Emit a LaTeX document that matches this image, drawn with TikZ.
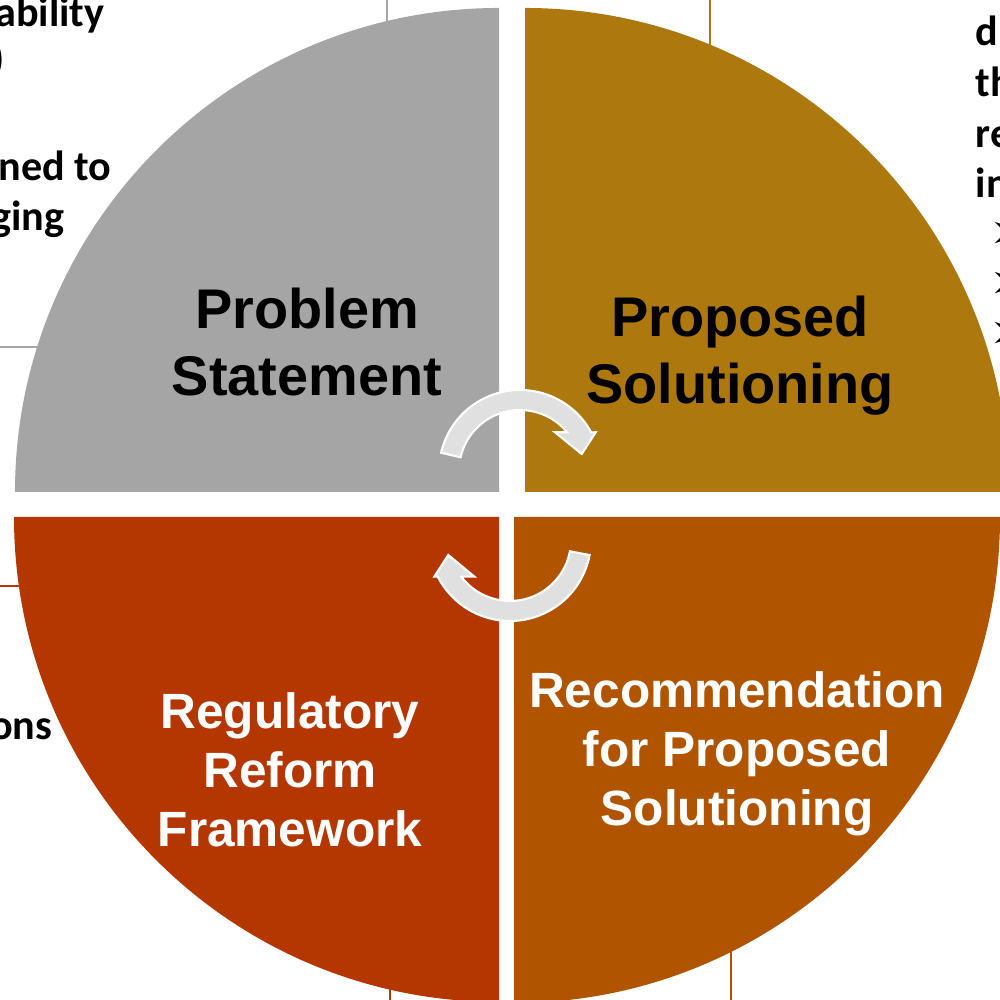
\documentclass[tikz,border=0pt]{standalone}
\usepackage{fontspec}
\newfontfamily\lblfont{Liberation Sans}
\newfontfamily\notefont{Carlito}
\newfontfamily\symfont{DejaVu Sans}
\usepackage{tikz}
\usetikzlibrary{positioning}
\definecolor{quadgray}{RGB}{165,165,165}
\definecolor{quadgold}{RGB}{173,120,14}
\definecolor{quadred}{RGB}{180,54,0}
\definecolor{quadorange}{RGB}{176,84,0}
\definecolor{turngray}{RGB}{224,224,224}
\tikzset{
  turn/.style={fill=turngray,draw=white,line width=0.6pt},
  guide/.style={line width=0.45pt},
  toplabel/.style={font=\lblfont\bfseries\fontsize{15.9}{19.1}\selectfont,align=center,inner sep=0pt},
  botlabel/.style={font=\lblfont\bfseries\fontsize{14.1}{16.8}\selectfont,align=center,inner sep=0pt,text=white},
  note/.style={font=\notefont\bfseries\fontsize{12}{14}\selectfont,inner sep=0pt},
  bullet/.style={font=\symfont\fontsize{14}{16}\selectfont,inner sep=0pt,anchor=west}
}

\begin{document}
\begin{tikzpicture}
    \useasboundingbox (0,0) rectangle (10,10);
    \clip (0,0) rectangle (10,10);

    \draw[guide,quadgray] (3.87,10) -- (3.87,9.5);
    \draw[guide,quadgray] (0,6.53) -- (0.6,6.53);
    \draw[guide,quadgold] (7.10,10) -- (7.10,9.4);
    \draw[guide,quadred] (0,4.14) -- (0.5,4.14);
    \draw[guide,quadorange] (7.31,0) -- (7.31,0.6);
    \draw[guide,quadred] (3.90,0) -- (3.90,0.3);

    \node[note,anchor=base east] (l1) at (1.05,9.73) {ability};
    \node[note,anchor=base east] (l2) at (0.05,9.27) {)};
    \node[note,anchor=base east] (l3) at (1.12,8.19) {ned to};
    \node[note,anchor=base east] (l4) at (0.65,7.69) {ging};
    \node[note,anchor=base east] (l5) at (0.53,2.60) {ons};

    \node[note,anchor=base west] (r1) at (9.75,9.54) {di};
    \node[note,anchor=base west] (r2) at (9.75,9.03) {th};
    \node[note,anchor=base west] (r3) at (9.75,8.52) {re};
    \node[note,anchor=base west] (r4) at (9.75,8.02) {in};
    \foreach \y [count=\i] in {7.65,7.15,6.65}
      \node[bullet] (b\i) at (9.89,\y) {➢};

    \fill[quadgray] (4.99,5.08) -- ++(0,4.84) arc[start angle=90,end angle=180,radius=4.84] -- cycle;
    \fill[quadgold] (5.25,5.08) -- ++(4.84,0) arc[start angle=0,end angle=90,radius=4.84] -- cycle;
    \fill[quadred] (4.99,4.83) -- ++(-4.85,0) arc[start angle=180,end angle=270,radius=4.85] -- cycle;
    \fill[quadorange] (5.14,4.83) -- ++(0,-4.86) arc[start angle=270,end angle=360,radius=4.86] -- cycle;

    \begin{scope}[shift={(5.20,5.29)}]
      \filldraw[turn] (167:0.81) arc[start angle=167,end angle=28.5,radius=0.81]
        -- (0.757,0.387) -- (0.617,0.17) -- (0.35,0.387)
        -- (39.4:0.61) arc[start angle=39.4,end angle=167,radius=0.61] -- cycle;
    \end{scope}
    \begin{scope}[shift={(5.10,4.60)}]
      \filldraw[turn] (-10.7:0.81) arc[start angle=-10.7,end angle=-153.1,radius=0.81]
        -- (-0.757,-0.366) -- (-0.617,-0.15) -- (-0.357,-0.366)
        -- (-143.1:0.61) arc[start angle=-143.1,end angle=-10.7,radius=0.61] -- cycle;
    \end{scope}

    \node[toplabel] (problem) at (3.07,6.58) {Problem\\Statement};
    \node[toplabel] (proposed) at (7.40,6.44) {Proposed\\Solutioning};
    \node[botlabel] (recommend) at (7.37,2.465) {Recommendation\\for Proposed\\Solutioning};
    \node[botlabel] (reform) at (2.90,2.30) {Regulatory\\Reform\\Framework};
\end{tikzpicture}
\end{document}
